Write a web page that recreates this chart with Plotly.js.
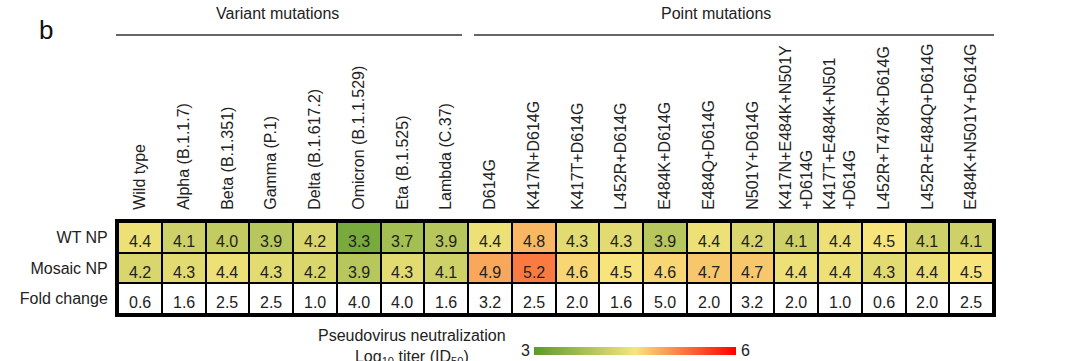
<!DOCTYPE html>
<html>
<head>
<meta charset="utf-8">
<script src="https://cdn.plot.ly/plotly-3.0.1.min.js"></script>
<style>html,body{margin:0;padding:0;background:#fff;}#chart{width:1080px;height:361px;}</style>
</head>
<body>
<div id="chart"></div>
<script>
const categories = [
  'Wild type', 'Alpha (B.1.1.7)', 'Beta (B.1.351)', 'Gamma (P.1)', 'Delta (B.1.617.2)',
  'Omicron (B.1.1.529)', 'Eta (B.1.525)', 'Lambda (C.37)',
  'D614G', 'K417N+D614G', 'K417T+D614G', 'L452R+D614G', 'E484K+D614G', 'E484Q+D614G',
  'N501Y+D614G', 'K417N+E484K+N501Y<br>+D614G', 'K417T+E484K+N501<br>+D614G',
  'L452R+T478K+D614G', 'L452R+E484Q+D614G', 'E484K+N501Y+D614G'
];
const rowLabels = ['WT NP', 'Mosaic NP', 'Fold change'];
const wtNP =     [4.4, 4.1, 4.0, 3.9, 4.2, 3.3, 3.7, 3.9, 4.4, 4.8, 4.3, 4.3, 3.9, 4.4, 4.2, 4.1, 4.4, 4.5, 4.1, 4.1];
const mosaicNP = [4.2, 4.3, 4.4, 4.3, 4.2, 3.9, 4.3, 4.1, 4.9, 5.2, 4.6, 4.5, 4.6, 4.7, 4.7, 4.4, 4.4, 4.3, 4.4, 4.5];
const foldChange = [0.6, 1.6, 2.5, 2.5, 1.0, 4.0, 4.0, 1.6, 3.2, 2.5, 2.0, 1.6, 5.0, 2.0, 3.2, 2.0, 1.0, 0.6, 2.0, 2.5];
const groupLabels = ['Variant mutations', 'Point mutations'];
const colorbarTitle = 'Pseudovirus neutralization<br>Log<sub>10</sub> titer (ID<sub>50</sub>)';
const colorbarTicks = ['3', '6'];

const FONT = 'Arial, "Liberation Sans", sans-serif';
const W = 1080, H = 361;
const M = {l: 118, r: 87, t: 222, b: 47};
const PW = W - M.l - M.r, PH = H - M.t - M.b;
const px = x => (x - M.l) / PW;
const py = y => (H - M.b - y) / PH;

const heat = {
  type: 'heatmap',
  x: categories,
  y: rowLabels,
  z: [wtNP, mosaicNP, foldChange.map(() => null)],
  zmin: 3, zmax: 6,
  colorscale: [[0, '#5a9b2c'], [0.5, '#f7e57c'], [1, '#ff0000']],
  xgap: 2, ygap: 2,
  hoverinfo: 'skip',
  colorbar: {
    orientation: 'h',
    xref: 'container', yref: 'container',
    x: 534 / PW, xanchor: 'left',
    y: 1 - 351 / H, yanchor: 'middle',
    len: 202, lenmode: 'pixels',
    thickness: 8,
    xpad: 0, ypad: 0,
    outlinewidth: 0,
    showticklabels: false,
    ticks: ''
  }
};
const foldHeat = {
  type: 'heatmap',
  x: categories,
  y: rowLabels,
  z: [wtNP.map(() => null), mosaicNP.map(() => null), foldChange],
  colorscale: [[0, '#ffffff'], [1, '#ffffff']],
  showscale: false,
  xgap: 2, ygap: 2,
  hoverinfo: 'skip'
};

const annotations = [];
const rows = [wtNP, mosaicNP, foldChange];
rows.forEach((vals, r) => {
  vals.forEach((v, i) => {
    annotations.push({
      x: categories[i], y: rowLabels[r], xref: 'x', yref: 'y',
      xanchor: 'center', yanchor: 'middle',
      text: v.toFixed(1), showarrow: false, yshift: -4,
      font: {family: FONT, size: 16, color: '#222'}
    });
  });
});
function paperText(x, y, text, size, extra) {
  return Object.assign({xref: 'paper', yref: 'paper', x: px(x), y: py(y), text: text, showarrow: false,
    xanchor: 'center', yanchor: 'middle', font: {family: FONT, size: size, color: '#222'}}, extra || {});
}
annotations.push(paperText(46, 30, 'b', 26, {font: {family: FONT, size: 26, color: '#111'}}));
annotations.push(paperText(277, 13, groupLabels[0], 16));
annotations.push(paperText(716, 13, groupLabels[1], 16));
annotations.push(paperText(412, 325, colorbarTitle, 16, {yanchor: 'top'}));
annotations.push(paperText(525, 350, colorbarTicks[0], 16));
annotations.push(paperText(745, 350, colorbarTicks[1], 16));

const shapes = [
  {type: 'line', xref: 'paper', yref: 'paper', x0: px(116), x1: px(462), y0: py(35), y1: py(35), line: {color: '#333', width: 1.5}},
  {type: 'line', xref: 'paper', yref: 'paper', x0: px(474), x1: px(994), y0: py(35), y1: py(35), line: {color: '#333', width: 1.5}}
];

const layout = {
  width: W, height: H,
  margin: M,
  paper_bgcolor: '#ffffff',
  plot_bgcolor: '#000000',
  showlegend: false,
  font: {family: FONT, size: 16, color: '#222'},
  xaxis: {
    type: 'category', side: 'top', tickangle: -90,
    categoryorder: 'array', categoryarray: categories,
    range: [-0.5, categories.length - 0.5],
    showgrid: false, zeroline: false, ticks: '',
    showline: true, mirror: true, linewidth: 3, linecolor: '#000',
    tickfont: {family: FONT, size: 16, color: '#222'},
    ticklabelstandoff: 6,
    automargin: false
  },
  yaxis: {
    type: 'category',
    categoryorder: 'array', categoryarray: rowLabels,
    range: [2.5, -0.5], autorange: false, dtick: 1,
    showgrid: false, zeroline: false, ticks: '',
    showline: true, mirror: true, linewidth: 3, linecolor: '#000',
    tickfont: {family: FONT, size: 16, color: '#222'},
    ticklabelstandoff: 4,
    automargin: false
  },
  annotations: annotations,
  shapes: shapes
};

Plotly.newPlot('chart', [heat, foldHeat], layout, {displayModeBar: false, staticPlot: true});
</script>
</body>
</html>
